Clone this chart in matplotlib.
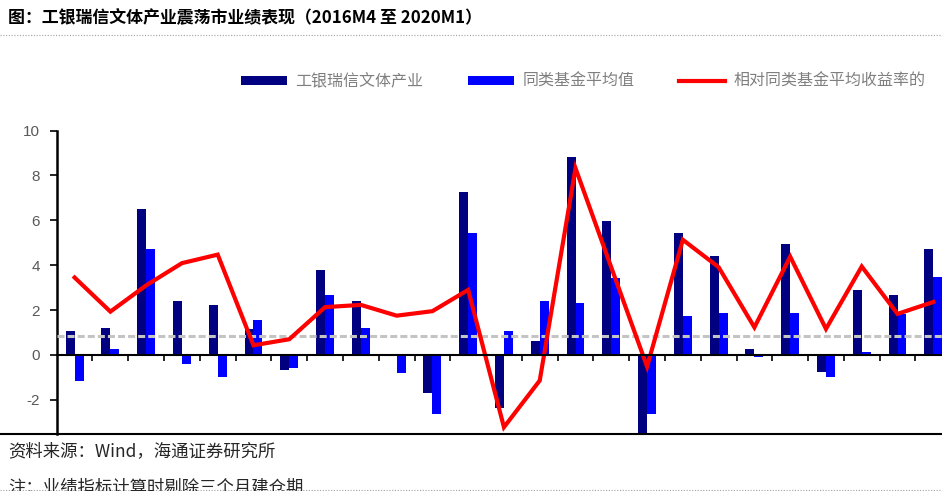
import numpy as np
import matplotlib
matplotlib.use("Agg")
import matplotlib.pyplot as plt
from matplotlib.lines import Line2D

plt.rcParams["font.family"] = ["Noto Sans CJK SC", "DejaVu Sans"]

TITLE = "图：工银瑞信文体产业震荡市业绩表现（2016M4 至 2020M1）"
SOURCE = "资料来源：Wind，海通证券研究所"
NOTE = "注：业绩指标计算时剔除三个月建仓期"
LABELS = ["工银瑞信文体产业", "同类基金平均值", "相对同类基金平均收益率的"]

# one value per period
fund = [1.07, 1.19, 6.49, 2.41, 2.21, 1.17, -0.67, 3.80, 2.41, 0.0,
        -1.71, 7.25, -2.35, 0.62, 8.84, 5.96, -3.6, 5.45, 4.41, 0.25,
        4.93, -0.77, 2.88, 2.67, 4.73]
peer_avg = [-1.14, 0.27, 4.74, -0.42, -1.00, 1.55, -0.57, 2.67, 1.19, -0.79,
            -2.63, 5.44, 1.07, 2.41, 2.30, 3.43, -2.63, 1.74, 1.86, -0.10,
            1.86, -0.98, 0.15, 1.83, 3.46]
excess = [3.45, 1.93, 3.10, 4.09, 4.47, 0.43, 0.70, 2.13, 2.23, 1.75,
          1.95, 2.90, -3.22, -1.14, 8.32, 3.90, -0.52, 5.13, 3.91, 1.23,
          4.38, 1.16, 3.94, 1.83, 2.36]
ref_level = 0.85
yticks = [-2, 0, 2, 4, 6, 8, 10]

W, H = 942, 491
fig = plt.figure(figsize=(W / 100, H / 100), dpi=100)

# plot area (right edge runs past the image, as in the source)
left, right, top, bottom = 56.7, 951.2, 130.5, 433.5
ax = fig.add_axes([left / W, 1 - bottom / H, (right - left) / W, (bottom - top) / H])

x = np.arange(len(fund))
bw = 0.25
b1 = ax.bar(x - bw / 2, fund, width=bw, color="#000080", label=LABELS[0], zorder=2)
b2 = ax.bar(x + bw / 2, peer_avg, width=bw, color="#0000FF", label=LABELS[1], zorder=2)
ax.axhline(ref_level, color="#c4c4c4", lw=2.2, ls=(0, (2.3, 1.0)), zorder=3)
ln, = ax.plot(x, excess, color="#FF0000", lw=3, solid_joinstyle="miter",
              label=LABELS[2], zorder=4)

ax.set_xlim(-0.5, len(fund) - 0.5)
ax.set_ylim(-3.5, 10)
ax.set_yticks(yticks)
ax.set_yticklabels([str(v) for v in yticks], family="Liberation Sans",
                   fontsize=11, color="#595959")
ax.tick_params(axis="y", direction="out", length=5, width=1.2, pad=7, color="black")
ax.set_xticks(np.arange(len(fund)) + 0.5)
ax.set_xticklabels([])
ax.tick_params(axis="x", direction="out", length=4, width=1.2, color="black")

for s in ["top", "right"]:
    ax.spines[s].set_visible(False)
ax.spines["bottom"].set_position(("data", 0))
ax.spines["bottom"].set_linewidth(1.5)
ax.spines["bottom"].set_zorder(5)
ax.spines["left"].set_linewidth(1.8)

# legend
fig.legend([b1, b2, ln], LABELS, loc="center left",
           bbox_to_anchor=(241 / W, 1 - 81.5 / H),
           ncol=3, frameon=False, fontsize=11.5, labelcolor="#7f7f7f",
           handlelength=2.9, handleheight=0.55, handletextpad=0.5,
           columnspacing=2.8, borderpad=0, borderaxespad=0)

# title and frame lines
fig.text(8 / W, 1 - 17 / H, TITLE, fontsize=12.2, fontweight="bold",
         color="black", va="center", ha="left")
fig.add_artist(Line2D([0, 1], [1 - 35 / H, 1 - 35 / H], color="#a0a0a0",
                      lw=0.8, ls=(0, (1, 1.5))))
fig.add_artist(Line2D([0, 1], [1 - 433.5 / H, 1 - 433.5 / H], color="black", lw=1.5))

fig.text(8 / W, 1 - 451 / H, SOURCE, fontsize=12.5, color="#262626",
         va="center", ha="left")
fig.text(8 / W, 1 - 479 / H, NOTE, fontsize=12.5, color="#262626",
         va="top", ha="left")
fig.add_artist(Line2D([0, 1], [1 - 489.5 / H, 1 - 489.5 / H], color="#a0a0a0",
                      lw=0.8, ls=(0, (1, 1.5))))

fig.savefig("out.png", dpi=100)
